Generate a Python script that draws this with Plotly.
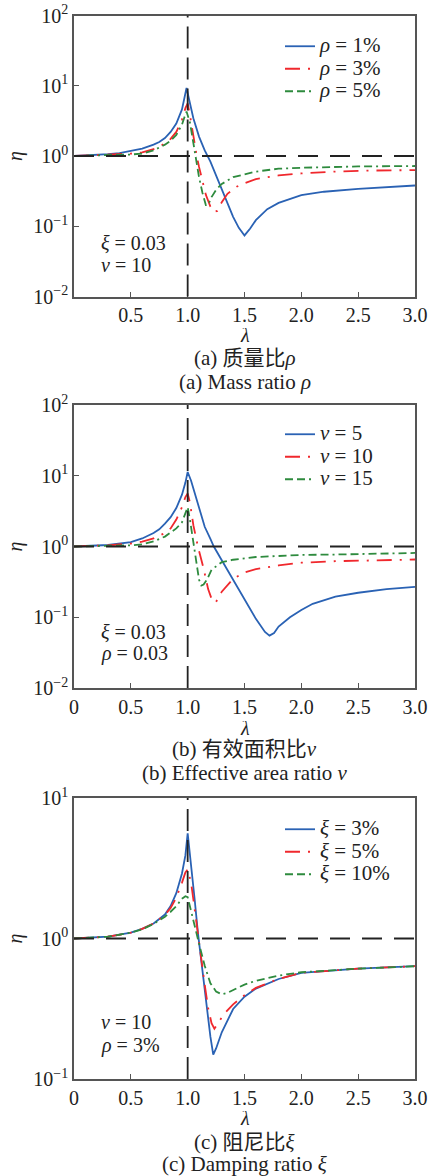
import plotly.graph_objects as go

# ---------------- data ----------------
# Panel (a): mass ratio rho
a_blue_x = [0, 0.2, 0.3, 0.4, 0.5, 0.6, 0.7, 0.75, 0.8, 0.85, 0.9, 0.95, 0.99, 1.02, 1.05, 1.1, 1.15, 1.2, 1.3, 1.4, 1.45, 1.5, 1.55, 1.6, 1.7, 1.8, 2.0, 2.2, 2.5, 2.8, 3.0]
a_blue_y = [1.0, 1.03, 1.06, 1.1, 1.17, 1.27, 1.45, 1.58, 1.8, 2.2, 2.9, 4.6, 9.3, 5.7, 3.45, 1.89, 1.2, 0.83, 0.345, 0.136, 0.095, 0.074, 0.093, 0.122, 0.175, 0.215, 0.277, 0.31, 0.34, 0.365, 0.38]
a_red_x = [0, 0.3, 0.5, 0.6, 0.7, 0.8, 0.85, 0.9, 0.95, 0.98, 1.0, 1.02, 1.04, 1.06, 1.08, 1.1, 1.13, 1.16, 1.2, 1.23, 1.26, 1.3, 1.35, 1.43, 1.5, 1.6, 1.8, 2.0, 2.3, 2.6, 3.0]
a_red_y = [1.0, 1.04, 1.08, 1.13, 1.25, 1.5, 1.75, 2.2, 3.3, 4.8, 5.6, 3.8, 2.4, 1.5, 1.0, 0.7, 0.45, 0.28, 0.19, 0.16, 0.165, 0.22, 0.29, 0.365, 0.41, 0.47, 0.53, 0.565, 0.6, 0.62, 0.63]
a_green_x = [0, 0.3, 0.5, 0.6, 0.7, 0.8, 0.85, 0.9, 0.95, 0.97, 0.99, 1.02, 1.04, 1.06, 1.08, 1.1, 1.13, 1.16, 1.18, 1.21, 1.25, 1.3, 1.4, 1.6, 1.8, 2.0, 2.5, 3.0]
a_green_y = [1.0, 1.02, 1.05, 1.08, 1.2, 1.45, 1.65, 2.0, 2.8, 3.5, 4.3, 3.0, 1.9, 1.15, 0.75, 0.5, 0.3, 0.2, 0.2, 0.26, 0.33, 0.4, 0.5, 0.6, 0.66, 0.68, 0.71, 0.72]

# Panel (b): effective area ratio nu
b_blue_x = [0, 0.3, 0.5, 0.6, 0.7, 0.75, 0.8, 0.85, 0.9, 0.95, 0.98, 1.0, 1.03, 1.06, 1.1, 1.15, 1.2, 1.23, 1.3, 1.4, 1.5, 1.6, 1.68, 1.72, 1.76, 1.8, 1.9, 2.0, 2.1, 2.3, 2.5, 2.75, 3.0]
b_blue_y = [1.0, 1.05, 1.15, 1.3, 1.55, 1.75, 2.1, 2.6, 3.5, 5.4, 8.0, 11.3, 8.5, 5.8, 3.4, 1.9, 1.28, 1.0, 0.64, 0.34, 0.18, 0.095, 0.062, 0.055, 0.06, 0.074, 0.1, 0.127, 0.155, 0.195, 0.222, 0.25, 0.268]
b_red_x = [0, 0.3, 0.5, 0.6, 0.7, 0.8, 0.85, 0.9, 0.95, 0.98, 1.0, 1.02, 1.05, 1.09, 1.14, 1.18, 1.22, 1.25, 1.3, 1.4, 1.5, 1.6, 1.8, 2.0, 2.3, 2.6, 3.0]
b_red_y = [1.0, 1.04, 1.1, 1.17, 1.3, 1.55, 1.8, 2.4, 3.6, 5.0, 5.6, 4.2, 2.0, 1.0, 0.49, 0.25, 0.165, 0.165, 0.23, 0.35, 0.43, 0.48, 0.54, 0.59, 0.62, 0.635, 0.655]
b_green_x = [0, 0.3, 0.5, 0.6, 0.7, 0.8, 0.9, 0.95, 0.98, 1.0, 1.02, 1.04, 1.06, 1.08, 1.1, 1.12, 1.14, 1.17, 1.21, 1.3, 1.4, 1.6, 1.8, 2.0, 2.3, 2.6, 3.0]
b_green_y = [1.0, 1.02, 1.04, 1.07, 1.18, 1.38, 1.8, 2.2, 3.0, 3.6, 2.4, 1.5, 0.9, 0.5, 0.34, 0.28, 0.29, 0.34, 0.47, 0.6, 0.65, 0.71, 0.74, 0.76, 0.77, 0.79, 0.81]

# Panel (c): damping ratio xi
c_blue_x = [0, 0.3, 0.5, 0.6, 0.7, 0.8, 0.85, 0.9, 0.95, 0.98, 1.0, 1.03, 1.06, 1.09, 1.12, 1.15, 1.18, 1.2, 1.225, 1.25, 1.3, 1.4, 1.5, 1.6, 1.8, 2.0, 2.5, 3.0]
c_blue_y = [1.0, 1.03, 1.1, 1.17, 1.28, 1.48, 1.7, 2.1, 2.9, 3.9, 5.6, 3.4, 1.95, 1.1, 0.68, 0.42, 0.28, 0.2, 0.149, 0.165, 0.215, 0.315, 0.385, 0.44, 0.515, 0.57, 0.61, 0.635]
c_red_x = [0, 0.3, 0.5, 0.6, 0.7, 0.8, 0.85, 0.9, 0.95, 0.98, 1.0, 1.03, 1.06, 1.09, 1.12, 1.15, 1.18, 1.21, 1.235, 1.27, 1.32, 1.4, 1.5, 1.6, 1.8, 2.0, 2.5, 3.0]
c_red_y = [1.0, 1.03, 1.1, 1.17, 1.28, 1.47, 1.65, 1.95, 2.5, 2.95, 3.1, 2.5, 1.65, 1.05, 0.7, 0.47, 0.32, 0.25, 0.228, 0.25, 0.29, 0.34, 0.395, 0.445, 0.515, 0.57, 0.61, 0.635]
c_green_x = [0, 0.3, 0.5, 0.6, 0.7, 0.8, 0.85, 0.9, 0.95, 0.98, 1.0, 1.03, 1.06, 1.1, 1.15, 1.2, 1.25, 1.3, 1.35, 1.4, 1.5, 1.6, 1.8, 2.0, 2.5, 3.0]
c_green_y = [1.0, 1.03, 1.1, 1.16, 1.27, 1.43, 1.55, 1.7, 1.92, 2.0, 1.97, 1.55, 1.2, 0.92, 0.64, 0.48, 0.42, 0.4, 0.41, 0.43, 0.47, 0.5, 0.545, 0.575, 0.61, 0.635]

a_names = ["<i>ρ</i> = 1%", "<i>ρ</i> = 3%", "<i>ρ</i> = 5%"]
b_names = ["<i>ν</i> = 5", "<i>ν</i> = 10", "<i>ν</i> = 15"]
c_names = ["<i>ξ</i> = 3%", "<i>ξ</i> = 5%", "<i>ξ</i> = 10%"]

x_ticks = [0, 0.5, 1.0, 1.5, 2.0, 2.5, 3.0]
a_xtext = ["", "0.5", "1.0", "1.5", "2.0", "2.5", "3.0"]
bc_xtext = ["0", "0.5", "1.0", "1.5", "2.0", "2.5", "3.0"]
ab_yticks = [0.01, 0.1, 1, 10, 100]
ab_ytext = ["10<sup>−2</sup>", "10<sup>−1</sup>", "10<sup>0</sup>", "10<sup>1</sup>", "10<sup>2</sup>"]
c_yticks = [0.1, 1, 10]
c_ytext = ["10<sup>−1</sup>", "10<sup>0</sup>", "10<sup>1</sup>"]

captions = [
    ("(a) 质量比<i>ρ</i>", "(a) Mass ratio <i>ρ</i>"),
    ("(b) 有效面积比<i>ν</i>", "(b) Effective area ratio <i>ν</i>"),
    ("(c) 阻尼比<i>ξ</i>", "(c) Damping ratio <i>ξ</i>"),
]
params = [
    ("<i>ξ</i> = 0.03", "<i>ν</i> = 10"),
    ("<i>ξ</i> = 0.03", "<i>ρ</i> = 0.03"),
    ("<i>ν</i> = 10", "<i>ρ</i> = 3%"),
]

# ---------------- styling / layout ----------------
W, H = 430, 1176
FONT = "Liberation Serif, Times New Roman, Noto Sans CJK SC, serif"
FS = 20
COLORS = ["#2a62b4", "#f0282d", "#2e8b3e"]
DASHES = ["solid", "15px,8px,2px,8px", "8px,4px,8px,4px,2px,4px"]

px_left, px_right = 74, 415
panels_px = [(15.5, 296.5), (405, 688), (798, 1079)]


def py(v):
    return 1 - v / H


fig = go.Figure()

series = [
    [(a_blue_x, a_blue_y), (a_red_x, a_red_y), (a_green_x, a_green_y)],
    [(b_blue_x, b_blue_y), (b_red_x, b_red_y), (b_green_x, b_green_y)],
    [(c_blue_x, c_blue_y), (c_red_x, c_red_y), (c_green_x, c_green_y)],
]
names = [a_names, b_names, c_names]
legend_ids = ["legend", "legend2", "legend3"]

for p in range(3):
    xa = "x" if p == 0 else f"x{p+1}"
    ya = "y" if p == 0 else f"y{p+1}"
    for k in range(3):
        xs, ys = series[p][k]
        fig.add_trace(go.Scatter(
            x=xs, y=ys, mode="lines",
            name='<span style="font-size:21px">' + names[p][k] + "</span>",
            line=dict(color=COLORS[k], width=1.8, dash=DASHES[k]),
            xaxis=xa, yaxis=ya, legend=legend_ids[p],
        ))

layout = dict(
    width=W, height=H, margin=dict(l=0, r=0, t=0, b=0, autoexpand=False),
    paper_bgcolor="white", plot_bgcolor="white",
    font=dict(family=FONT, size=FS, color="#222"),
    showlegend=True,
)

annotations = []
shapes = []


def ann(text, x, y, xanchor="center", size=FS, **kw):
    d = dict(text=text, x=x / W, y=py(y), xref="paper", yref="paper",
             xanchor=xanchor, yanchor="middle", showarrow=False,
             font=dict(family=FONT, size=size, color="#222"))
    d.update(kw)
    annotations.append(d)


for p in range(3):
    top, bot = panels_px[p]
    sfx = "" if p == 0 else str(p + 1)
    xdom = [px_left / W, px_right / W]
    ydom = [py(bot), py(top)]
    yr = [-1, 1] if p == 2 else [-2, 2]
    layout["xaxis" + sfx] = dict(
        domain=xdom, range=[0, 3], tickvals=x_ticks,
        ticktext=a_xtext if p == 0 else bc_xtext,
        ticks="inside", ticklen=5, tickcolor="#555", tickwidth=1.2,
        showline=True, linecolor="#555", linewidth=1.6, mirror=True,
        showgrid=False, zeroline=False, anchor="y" + sfx, automargin=False,
        tickfont=dict(family=FONT, size=FS, color="#222"),
    )
    layout["yaxis" + sfx] = dict(
        domain=ydom, type="log", range=yr,
        tickvals=c_yticks if p == 2 else ab_yticks,
        ticktext=c_ytext if p == 2 else ab_ytext,
        ticks="inside", ticklen=5, tickcolor="#555", tickwidth=1.2,
        showline=True, linecolor="#555", linewidth=1.6, mirror=True,
        showgrid=False, zeroline=False, anchor="x" + sfx, automargin=False,
        tickfont=dict(family=FONT, size=FS, color="#222"),
    )
    # legend
    leg_top = [30, 418, 813][p]
    layout[legend_ids[p]] = dict(
        x=280 / W, y=py(leg_top), xanchor="left", yanchor="top",
        bgcolor="rgba(0,0,0,0)", font=dict(family=FONT, size=15, color="#222"),
        itemwidth=30, tracegroupgap=0,
    )
    # reference dashed lines
    xref = "x" + sfx
    yref = "y" + sfx
    shapes.append(dict(type="line", xref=xref, yref=yref + " domain",
                       x0=1, x1=1, y0=0, y1=1,
                       line=dict(color="#222", width=1.8, dash="22px,9px")))
    shapes.append(dict(type="line", xref=xref + " domain", yref=yref,
                       x0=0, x1=1, y0=1, y1=1,
                       line=dict(color="#222", width=1.8, dash="20px,12px")))
    mid = (top + bot) / 2
    ann("<i>η</i>", 15, mid, textangle=-90)
    cx = (px_left + px_right) / 2
    ann("<i>λ</i>", cx, [335, 728, 1118][p], height=14)
    c1y, c2y = [(358, 382), (749, 773), (1142, 1164)][p]
    ann(captions[p][0], cx, c1y, size=21)
    ann(captions[p][1], cx, c2y, size=21)
    p1y, p2y = [(243, 265), (632, 653), (1022, 1045)][p]
    ann(params[p][0], 99, p1y, xanchor="left")
    ann(params[p][1], 99, p2y, xanchor="left")

layout["annotations"] = annotations
layout["shapes"] = shapes
fig.update_layout(**layout)

fig.write_html("out.html")
